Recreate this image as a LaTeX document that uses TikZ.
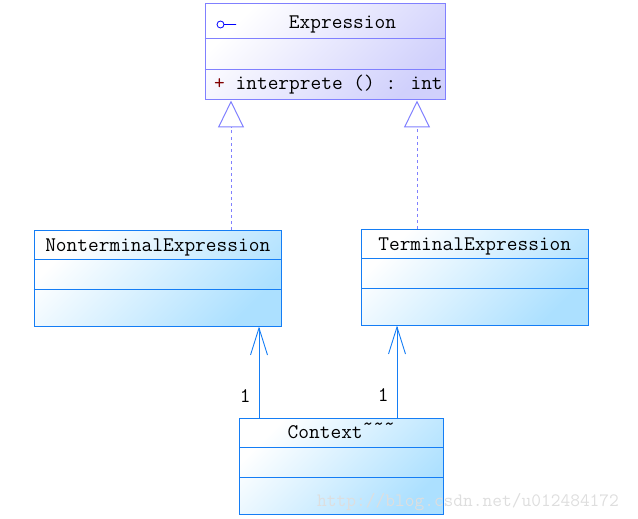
\documentclass[tikz,border=0pt]{standalone}
\usepackage{fontspec}
\usetikzlibrary{arrows.meta}

\definecolor{ifaceline}{RGB}{128,128,255}
\definecolor{ifacefill}{RGB}{208,208,252}
\definecolor{classline}{RGB}{20,125,245}
\definecolor{classfill}{RGB}{172,224,255}
\definecolor{opred}{RGB}{128,0,0}
\definecolor{markgray}{RGB}{222,222,222}

\tikzset{
  umlfont/.style={font=\fontsize{20.8}{24}\ttfamily},
  iface/.style={draw=ifaceline, line width=1pt, top color=white, bottom color=ifacefill, shading angle=45, minimum height=96pt},
  klass/.style={draw=classline, line width=1pt, top color=white, bottom color=classfill, shading angle=45, minimum height=96pt},
  title/.style={umlfont, anchor=base, inner sep=0pt},
  realize/.style={draw=ifaceline, line width=.8pt, dash pattern=on 3pt off 3pt, -{Triangle[open, length=27pt, width=26pt, line width=1pt]}},
  assoc/.style={draw=classline, line width=1pt, -{Straight Barb[length=27pt, width=17pt, line width=.9pt]}},
  mult/.style={umlfont, inner sep=0pt}
}

\begin{document}
\begin{tikzpicture}[x=1pt, y=1pt]
\useasboundingbox (0,0) rectangle (638,-519);

\node[iface, minimum width=240pt] (expr) at (325,-52) {};
\draw[ifaceline, line width=1pt] ([yshift=-35pt]expr.north west) -- ([yshift=-35pt]expr.north east);
\draw[ifaceline, line width=1pt] ([yshift=-66pt]expr.north west) -- ([yshift=-66pt]expr.north east);
\node[title] (exprname) at ([xshift=17.5pt, yshift=-25pt]expr.north) {Expression};
\draw[blue, line width=.8pt] (220.5,-24.5) circle (3.5) (224,-24.5) -- (236,-24.5);
\node[umlfont, anchor=base west, inner sep=0pt] (exprop) at ([xshift=9.5pt, yshift=-86pt]expr.north west) {{\color{opred}+} interprete () : int};

\node[klass, minimum width=247.5pt] (nonterm) at (157.75,-278) {};
\draw[classline, line width=1pt] ([yshift=-30pt]nonterm.north west) -- ([yshift=-30pt]nonterm.north east);
\draw[classline, line width=1pt] ([yshift=-60pt]nonterm.north west) -- ([yshift=-60pt]nonterm.north east);
\node[title] (nontermname) at ([yshift=-21.5pt]nonterm.north) {NonterminalExpression};

\node[klass, minimum width=226.5pt] (term) at (474.75,-277) {};
\draw[classline, line width=1pt] ([yshift=-30pt]term.north west) -- ([yshift=-30pt]term.north east);
\draw[classline, line width=1pt] ([yshift=-60pt]term.north west) -- ([yshift=-60pt]term.north east);
\node[title] (termname) at ([yshift=-21.5pt]term.north) {TerminalExpression};

\node[klass, minimum width=203.5pt] (ctx) at (341.25,-466) {};
\draw[classline, line width=1pt] ([yshift=-30pt]ctx.north west) -- ([yshift=-30pt]ctx.north east);
\draw[classline, line width=1pt] ([yshift=-60pt]ctx.north west) -- ([yshift=-60pt]ctx.north east);
\node[title] (ctxname) at ([yshift=-21pt]ctx.north) {Context\raisebox{8pt}{\textasciitilde\textasciitilde\textasciitilde}};

\draw[realize] ([xshift=73.25pt]nonterm.north) -- ([xshift=-94pt]expr.south);
\draw[realize] ([xshift=-57.75pt]term.north) -- ([xshift=92pt]expr.south);

\draw[assoc] ([xshift=-82.25pt]ctx.north) -- node[mult, pos=.24, left=8pt] (m1) {1} ([xshift=101.25pt]nonterm.south);
\draw[assoc] ([xshift=55.75pt]ctx.north) -- node[mult, pos=.24, left=8pt] (m2) {1} ([xshift=-77.75pt]term.south);

\node[font=\fontsize{18.9}{22}\ttfamily, text=markgray, anchor=base west, inner sep=0pt] (mark) at (317,-506) {http://blog.csdn.net/u012484172};
\end{tikzpicture}
\end{document}
